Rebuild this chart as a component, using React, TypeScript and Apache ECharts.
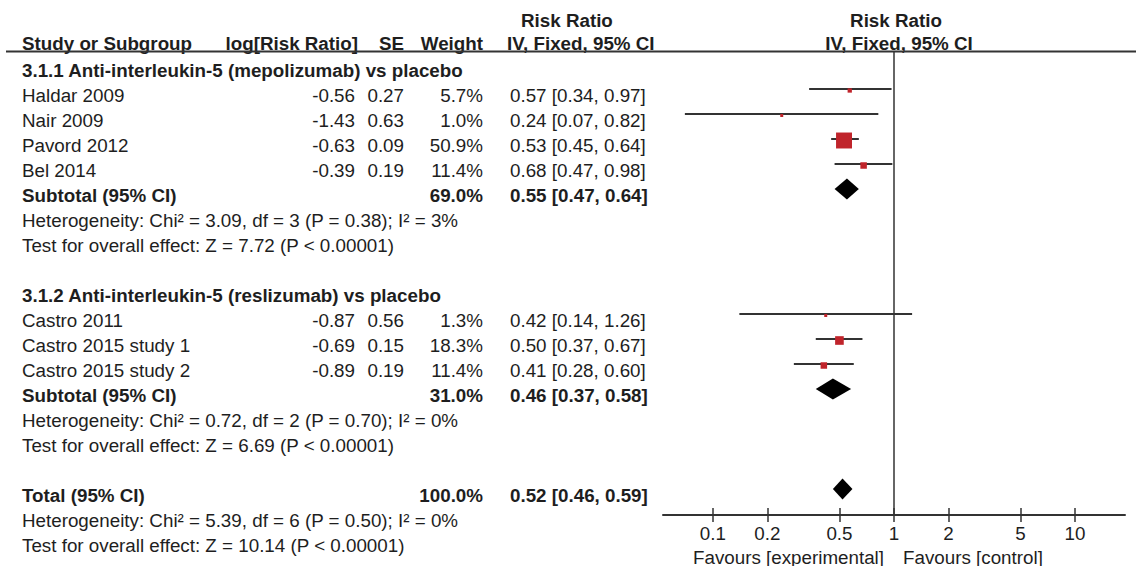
import React, { useEffect, useRef } from 'react';
import * as echarts from 'echarts';

// ---------- data ----------
const GROUP_TITLES = [
  '3.1.1 Anti-interleukin-5 (mepolizumab) vs placebo',
  '3.1.2 Anti-interleukin-5 (reslizumab) vs placebo',
];

const STUDY_NAMES = [
  'Haldar 2009',
  'Nair 2009',
  'Pavord 2012',
  'Bel 2014',
  'Castro 2011',
  'Castro 2015 study 1',
  'Castro 2015 study 2',
];
const STUDY_GROUP = [0, 0, 0, 0, 1, 1, 1];
const LOG_RR = [-0.56, -1.43, -0.63, -0.39, -0.87, -0.69, -0.89];
const SE = [0.27, 0.63, 0.09, 0.19, 0.56, 0.15, 0.19];
const WEIGHT = [5.7, 1.0, 50.9, 11.4, 1.3, 18.3, 11.4];
const RR = [0.57, 0.24, 0.53, 0.68, 0.42, 0.5, 0.41];
const RR_LOW = [0.34, 0.07, 0.45, 0.47, 0.14, 0.37, 0.28];
const RR_HIGH = [0.97, 0.82, 0.64, 0.98, 1.26, 0.67, 0.6];

const POOLED_LABELS = ['Subtotal (95% CI)', 'Subtotal (95% CI)', 'Total (95% CI)'];
const POOLED_WEIGHT = [69.0, 31.0, 100.0];
const POOLED_RR = [0.55, 0.46, 0.52];
const POOLED_LOW = [0.47, 0.37, 0.46];
const POOLED_HIGH = [0.64, 0.58, 0.59];
const HETEROGENEITY = [
  'Heterogeneity: Chi² = 3.09, df = 3 (P = 0.38); I² = 3%',
  'Heterogeneity: Chi² = 0.72, df = 2 (P = 0.70); I² = 0%',
  'Heterogeneity: Chi² = 5.39, df = 6 (P = 0.50); I² = 0%',
];
const OVERALL_EFFECT = [
  'Test for overall effect: Z = 7.72 (P < 0.00001)',
  'Test for overall effect: Z = 6.69 (P < 0.00001)',
  'Test for overall effect: Z = 10.14 (P < 0.00001)',
];

const COLUMN_HEADERS = ['Study or Subgroup', 'log[Risk Ratio]', 'SE', 'Weight', 'IV, Fixed, 95% CI'];
const EFFECT_TITLE = 'Risk Ratio';
const EFFECT_SUBTITLE = 'IV, Fixed, 95% CI';
const FAVOURS = ['Favours [experimental]', 'Favours [control]'];

const TICK_VALUES = [0.1, 0.2, 0.5, 1, 2, 5, 10];
const TICK_LABELS = ['0.1', '0.2', '0.5', '1', '2', '5', '10'];
const AXIS_RANGE = [0.053, 18.9];

// ---------- helpers ----------
const FONT = '"Liberation Sans", Arial, Helvetica, sans-serif';
const FONT_SIZE = 18.8;
const TEXT_COLOR = '#1e1e1e';
const LINE_COLOR = '#333333';
const SQUARE_COLOR = '#c0242b';
const lg = (v: number) => Math.log10(v);
const fmtCI = (r: number, lo: number, hi: number) =>
  `${r.toFixed(2)} [${lo.toFixed(2)}, ${hi.toFixed(2)}]`;

type Row =
  | { kind: 'title'; g: number }
  | { kind: 'study'; s: number }
  | { kind: 'pooled'; p: number }
  | { kind: 'het'; p: number }
  | { kind: 'test'; p: number }
  | { kind: 'blank' };

function buildRows(): Row[] {
  const rows: Row[] = [];
  GROUP_TITLES.forEach((_, g) => {
    rows.push({ kind: 'title', g });
    STUDY_NAMES.forEach((__, s) => {
      if (STUDY_GROUP[s] === g) rows.push({ kind: 'study', s });
    });
    rows.push({ kind: 'pooled', p: g });
    rows.push({ kind: 'het', p: g });
    rows.push({ kind: 'test', p: g });
    rows.push({ kind: 'blank' });
  });
  const t = POOLED_LABELS.length - 1;
  rows.push({ kind: 'pooled', p: t });
  rows.push({ kind: 'het', p: t });
  rows.push({ kind: 'test', p: t });
  return rows;
}

export default function App() {
  const ref = useRef<HTMLDivElement>(null);

  useEffect(() => {
    if (!ref.current) return;
    const chart = echarts.init(ref.current, undefined, { renderer: 'svg' });
    const rows = buildRows();

    const studyData: number[][] = [];
    const pooledData: number[][] = [];
    rows.forEach((r, i) => {
      if (r.kind === 'study') {
        studyData.push([lg(RR[r.s]), i, lg(RR_LOW[r.s]), lg(RR_HIGH[r.s]), WEIGHT[r.s]]);
      } else if (r.kind === 'pooled') {
        pooledData.push([lg(POOLED_RR[r.p]), i, lg(POOLED_LOW[r.p]), lg(POOLED_HIGH[r.p])]);
      }
    });

    const tickLogs = TICK_VALUES.map(lg);
    const xMin = lg(AXIS_RANGE[0]);
    const xMax = lg(AXIS_RANGE[1]);

    const option: any = {
      animation: false,
      backgroundColor: '#ffffff',
      grid: { left: 663, right: 11, top: 52, bottom: 51, containLabel: false, outerBoundsMode: 'none' },
      xAxis: [
        {
          type: 'value',
          min: xMin,
          max: xMax,
          position: 'bottom',
          axisLine: { show: true, onZero: false, lineStyle: { color: LINE_COLOR, width: 2 } },
          axisTick: { show: true, length: 7, inside: false, customValues: tickLogs, lineStyle: { color: LINE_COLOR, width: 1.5 } },
          axisLabel: {
            show: true,
            customValues: tickLogs,
            margin: 9,
            fontSize: FONT_SIZE,
            fontFamily: FONT,
            color: TEXT_COLOR,
            formatter: (v: number) => {
              const idx = tickLogs.findIndex((t) => Math.abs(t - v) < 1e-6);
              return idx >= 0 ? TICK_LABELS[idx] : '';
            },
          },
          splitLine: { show: false },
        },
        {
          type: 'value',
          min: xMin,
          max: xMax,
          position: 'bottom',
          axisLine: { show: false, onZero: false },
          axisTick: { show: true, length: 7, inside: true, customValues: tickLogs, lineStyle: { color: LINE_COLOR, width: 1.5 } },
          axisLabel: { show: false },
          splitLine: { show: false },
        },
      ],
      yAxis: {
        type: 'value',
        inverse: true,
        min: -0.48,
        max: 18.04,
        axisLine: { show: true, onZero: true, lineStyle: { color: LINE_COLOR, width: 1.5 } },
        axisTick: { show: false },
        axisLabel: { show: false },
        splitLine: { show: false },
      },
      series: [
        {
          type: 'custom',
          name: 'studies',
          xAxisIndex: 0,
          yAxisIndex: 0,
          data: studyData,
          encode: { x: 0, y: 1 },
          renderItem: (_p: any, api: any) => {
            const y = api.value(1);
            const c = api.coord([api.value(0), y]);
            const l = api.coord([api.value(2), y]);
            const h = api.coord([api.value(3), y]);
            const side = Math.max(3, 1.51 * Math.pow(api.value(4), 0.6));
            return {
              type: 'group',
              children: [
                {
                  type: 'line',
                  shape: { x1: l[0], y1: l[1], x2: h[0], y2: h[1] },
                  style: { stroke: LINE_COLOR, lineWidth: 2 },
                },
                {
                  type: 'rect',
                  shape: { x: c[0] - side / 2, y: c[1] + 1.5 - side / 2, width: side, height: side },
                  style: { fill: SQUARE_COLOR },
                },
              ],
            };
          },
        },
        {
          type: 'custom',
          name: 'pooled',
          xAxisIndex: 0,
          yAxisIndex: 0,
          data: pooledData,
          encode: { x: 0, y: 1 },
          renderItem: (_p: any, api: any) => {
            const y = api.value(1);
            const c = api.coord([api.value(0), y]);
            const l = api.coord([api.value(2), y]);
            const h = api.coord([api.value(3), y]);
            const hh = 10.5;
            return {
              type: 'polygon',
              shape: {
                points: [
                  [l[0], c[1]],
                  [c[0], c[1] - hh],
                  [h[0], c[1]],
                  [c[0], c[1] + hh],
                ],
              },
              style: { fill: '#000000' },
            };
          },
        },
      ],
    };
    chart.setOption(option);

    // ---------- table texts ----------
    const rowY = (i: number) => {
      const p = chart.convertToPixel({ yAxisIndex: 0 }, i) as unknown as number;
      return (typeof p === 'number' && isFinite(p) ? p : 64 + 25 * i) + 6.5;
    };
    const txt = (
      text: string,
      x: number,
      y: number,
      align: 'left' | 'right' | 'center',
      bold = false
    ) => ({
      type: 'text',
      x,
      y,
      silent: true,
      style: {
        text,
        fill: TEXT_COLOR,
        font: `${bold ? 'bold ' : ''}${FONT_SIZE}px ${FONT}`,
        align,
        verticalAlign: 'middle',
      },
    });

    const NAME_X = 22;
    const LOG_X = 355;
    const SE_X = 404;
    const W_X = 483;
    const CI_X = 510;

    const g: any[] = [];
    // headers
    g.push(txt(EFFECT_TITLE, 521, 20, 'left', true));
    g.push(txt(EFFECT_TITLE, 896, 20, 'center', true));
    g.push(txt(COLUMN_HEADERS[0], NAME_X, 43, 'left', true));
    g.push(txt(COLUMN_HEADERS[1], 358, 43, 'right', true));
    g.push(txt(COLUMN_HEADERS[2], SE_X, 43, 'right', true));
    g.push(txt(COLUMN_HEADERS[3], W_X, 43, 'right', true));
    g.push(txt(COLUMN_HEADERS[4], 507, 43, 'left', true));
    g.push(txt(EFFECT_SUBTITLE, 899, 43, 'center', true));
    g.push({
      type: 'line',
      silent: true,
      shape: { x1: 6, y1: 51.5, x2: 1136, y2: 51.5 },
      style: { stroke: LINE_COLOR, lineWidth: 2 },
    });

    rows.forEach((r, i) => {
      const y = rowY(i);
      if (r.kind === 'title') {
        g.push(txt(GROUP_TITLES[r.g], NAME_X, y, 'left', true));
      } else if (r.kind === 'study') {
        const s = r.s;
        g.push(txt(STUDY_NAMES[s], NAME_X, y, 'left'));
        g.push(txt(LOG_RR[s].toFixed(2), LOG_X, y, 'right'));
        g.push(txt(SE[s].toFixed(2), SE_X, y, 'right'));
        g.push(txt(`${WEIGHT[s].toFixed(1)}%`, W_X, y, 'right'));
        g.push(txt(fmtCI(RR[s], RR_LOW[s], RR_HIGH[s]), CI_X, y, 'left'));
      } else if (r.kind === 'pooled') {
        const p = r.p;
        g.push(txt(POOLED_LABELS[p], NAME_X, y, 'left', true));
        g.push(txt(`${POOLED_WEIGHT[p].toFixed(1)}%`, W_X, y, 'right', true));
        g.push(txt(fmtCI(POOLED_RR[p], POOLED_LOW[p], POOLED_HIGH[p]), CI_X, y, 'left', true));
      } else if (r.kind === 'het') {
        g.push(txt(HETEROGENEITY[r.p], NAME_X, y, 'left'));
      } else if (r.kind === 'test') {
        g.push(txt(OVERALL_EFFECT[r.p], NAME_X, y, 'left'));
      }
    });

    g.push(txt(FAVOURS[0], 884, 557, 'right'));
    g.push(txt(FAVOURS[1], 903, 557, 'left'));

    chart.setOption({ graphic: g });

    return () => {
      chart.dispose();
    };
  }, []);

  return (
    <div
      ref={ref}
      style={{ position: 'absolute', left: 0, top: 0, width: 1136, height: 566, background: '#fff' }}
    />
  );
}
